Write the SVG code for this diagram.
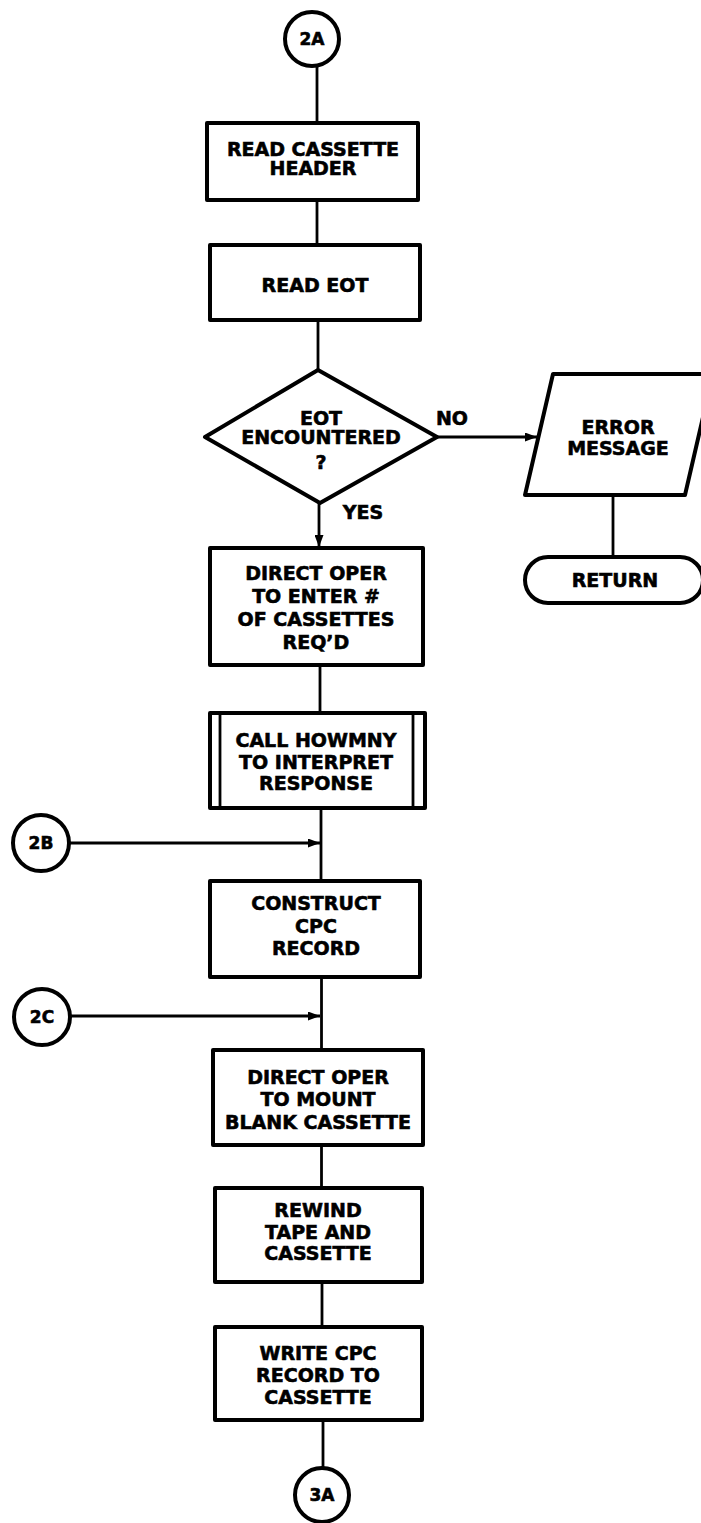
<svg xmlns="http://www.w3.org/2000/svg" width="701" height="1523" viewBox="0 0 701 1523">
<style>
.box{fill:#fff;stroke:#000;stroke-width:4;stroke-linejoin:round}
.ln{fill:none;stroke:#000;stroke-width:2.8}
.t{font-family:"DejaVu Sans",sans-serif;font-weight:bold;font-size:19px;text-anchor:middle;fill:#000;stroke:#000;stroke-width:0.6}
.c{font-size:17px}
</style>
<defs>
<marker id="ah" viewBox="0 0 12 9" refX="12" refY="4.5" markerWidth="12" markerHeight="9" markerUnits="userSpaceOnUse" orient="auto">
<path d="M0,0 L12,4.5 L0,9 z" fill="#000"/>
</marker>
</defs>
<rect width="701" height="1523" fill="#fff"/>
<g id="connectors">
<line class="ln" x1="317" y1="66" x2="317" y2="123"/>
<line class="ln" x1="317" y1="200" x2="317" y2="245"/>
<line class="ln" x1="318" y1="320" x2="318" y2="370"/>
<line class="ln" x1="319" y1="503" x2="319" y2="547" marker-end="url(#ah)"/>
<line class="ln" x1="437" y1="437" x2="537" y2="437" marker-end="url(#ah)"/>
<line class="ln" x1="613" y1="495" x2="613" y2="557"/>
<line class="ln" x1="320" y1="665" x2="320" y2="713"/>
<line class="ln" x1="321" y1="808" x2="321" y2="881"/>
<line class="ln" x1="70" y1="843" x2="320" y2="843" marker-end="url(#ah)"/>
<line class="ln" x1="321.5" y1="977" x2="321.5" y2="1050"/>
<line class="ln" x1="70" y1="1016" x2="320" y2="1016" marker-end="url(#ah)"/>
<line class="ln" x1="321.5" y1="1145" x2="321.5" y2="1188"/>
<line class="ln" x1="322" y1="1282" x2="322" y2="1327"/>
<line class="ln" x1="323" y1="1420" x2="323" y2="1468"/>
<text class="t" x="452" y="425">NO</text>
<text class="t" x="363" y="519">YES</text>
</g>
<g id="c2A">
<circle class="box" cx="312" cy="39" r="27"/>
<text class="t c" x="312" y="45">2A</text>
</g>
<g id="n1">
<rect class="box" x="207" y="123" width="211" height="77"/>
<text class="t" x="313" y="156">READ CASSETTE</text>
<text class="t" x="313" y="175">HEADER</text>
</g>
<g id="n2">
<rect class="box" x="210" y="245" width="210" height="75"/>
<text class="t" x="315" y="292">READ EOT</text>
</g>
<g id="d1">
<polygon class="box" points="318,370 437,437 320,503 205,437"/>
<text class="t" x="321" y="425">EOT</text>
<text class="t" x="321" y="444">ENCOUNTERED</text>
<text class="t" x="321" y="469">?</text>
</g>
<g id="err">
<polygon class="box" points="553,374 713,374 685,495 525,495"/>
<text class="t" x="618" y="434">ERROR</text>
<text class="t" x="618" y="455">MESSAGE</text>
</g>
<g id="ret">
<rect class="box" x="525" y="557" width="178" height="46" rx="23"/>
<text class="t" x="615" y="587">RETURN</text>
</g>
<g id="n3">
<rect class="box" x="210" y="548" width="213" height="117"/>
<text class="t" x="316" y="580">DIRECT OPER</text>
<text class="t" x="316" y="603">TO ENTER #</text>
<text class="t" x="316" y="626">OF CASSETTES</text>
<text class="t" x="316" y="649">REQ’D</text>
</g>
<g id="n4">
<rect class="box" x="210" y="713" width="215" height="95"/>
<line class="ln" x1="220" y1="713" x2="220" y2="808"/>
<line class="ln" x1="413" y1="713" x2="413" y2="808"/>
<text class="t" x="316" y="747">CALL HOWMNY</text>
<text class="t" x="316" y="769">TO INTERPRET</text>
<text class="t" x="316" y="790">RESPONSE</text>
</g>
<g id="c2B">
<circle class="box" cx="41" cy="843" r="28"/>
<text class="t c" x="41" y="849">2B</text>
</g>
<g id="n5">
<rect class="box" x="210" y="881" width="210" height="96"/>
<text class="t" x="316" y="910">CONSTRUCT</text>
<text class="t" x="316" y="933">CPC</text>
<text class="t" x="316" y="955">RECORD</text>
</g>
<g id="c2C">
<circle class="box" cx="42" cy="1017" r="28"/>
<text class="t c" x="42" y="1023">2C</text>
</g>
<g id="n6">
<rect class="box" x="213" y="1050" width="210" height="95"/>
<text class="t" x="318" y="1084">DIRECT OPER</text>
<text class="t" x="318" y="1106">TO MOUNT</text>
<text class="t" x="318" y="1129">BLANK CASSETTE</text>
</g>
<g id="n7">
<rect class="box" x="215" y="1188" width="207" height="94"/>
<text class="t" x="318" y="1217">REWIND</text>
<text class="t" x="318" y="1239">TAPE AND</text>
<text class="t" x="318" y="1260">CASSETTE</text>
</g>
<g id="n8">
<rect class="box" x="215" y="1327" width="207" height="93"/>
<text class="t" x="318" y="1360">WRITE CPC</text>
<text class="t" x="318" y="1382">RECORD TO</text>
<text class="t" x="318" y="1404">CASSETTE</text>
</g>
<g id="c3A">
<circle class="box" cx="322" cy="1495" r="27"/>
<text class="t c" x="322" y="1501">3A</text>
</g>
</svg>
